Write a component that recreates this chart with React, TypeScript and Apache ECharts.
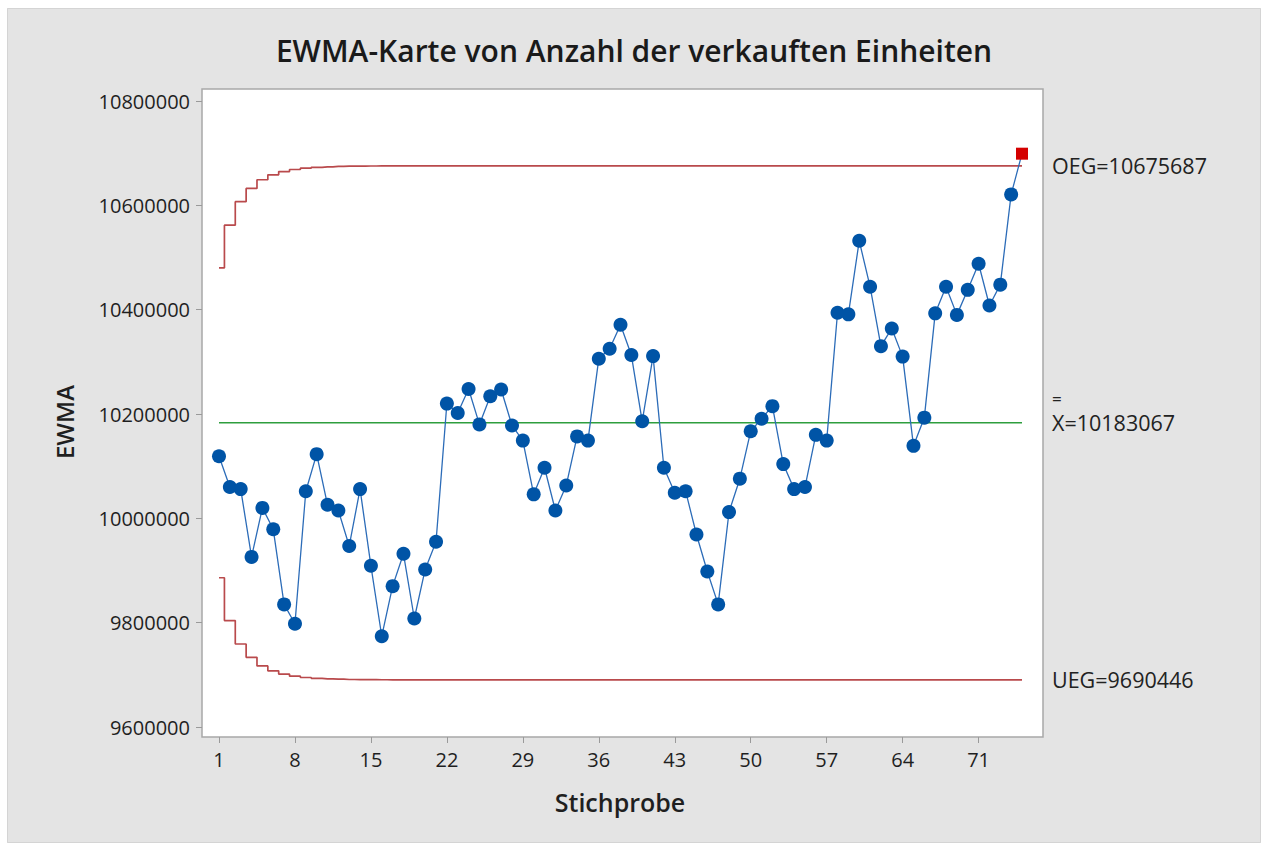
import React, { useEffect, useRef } from "react";
import * as echarts from "echarts";

const TITLE = "EWMA-Karte von Anzahl der verkauften Einheiten";
const X_NAME = "Stichprobe";
const Y_NAME = "EWMA";

const SAMPLES = [
  1, 2, 3, 4, 5, 6, 7, 8, 9, 10, 11, 12, 13, 14, 15, 16, 17, 18, 19, 20, 21, 22, 23, 24, 25,
  26, 27, 28, 29, 30, 31, 32, 33, 34, 35, 36, 37, 38, 39, 40, 41, 42, 43, 44, 45, 46, 47, 48, 49, 50,
  51, 52, 53, 54, 55, 56, 57, 58, 59, 60, 61, 62, 63, 64, 65, 66, 67, 68, 69, 70, 71, 72, 73, 74, 75,
];
const X_TICK_LABELS = ["1", "8", "15", "22", "29", "36", "43", "50", "57", "64", "71"];
const Y_TICKS = [9600000, 9800000, 10000000, 10200000, 10400000, 10600000, 10800000];

const EWMA = [
  10119000, 10060000, 10056000, 9926000, 10020000, 9979000, 9835000, 9798000, 10052000, 10123000,
  10026000, 10015000, 9947000, 10056000, 9909000, 9774000, 9870000, 9932000, 9808000, 9902000,
  9955000, 10220000, 10202000, 10248000, 10180000, 10234000, 10247000, 10178000, 10149000, 10046000,
  10097000, 10015000, 10063000, 10157000, 10149000, 10306000, 10325000, 10371000, 10313000, 10186000,
  10311000, 10097000, 10049000, 10052000, 9969000, 9898000, 9835000, 10012000, 10076000, 10167000,
  10191000, 10215000, 10104000, 10056000, 10060000, 10160000, 10149000, 10394000, 10391000, 10532000,
  10444000, 10330000, 10364000, 10310000, 10139000, 10193000, 10393000, 10444000, 10390000, 10438000,
  10488000, 10408000, 10448000, 10621000, 10699000,
];

const CENTER = 10183067;
const OEG = 10675687;
const UEG = 9690446;
// step values of the control limits at the first samples
const OEG_START = [
  10480000, 10562000, 10607000, 10632500, 10649000, 10658500, 10664700, 10668700, 10671200,
  10672800, 10673900, 10674500, 10675000, 10675200, 10675400, 10675500, 10675600, 10675600,
];
const UEG_START = [
  9886100, 9804100, 9759100, 9733600, 9717100, 9707600, 9701400, 9697400, 9694900,
  9693300, 9692200, 9691600, 9691100, 9690900, 9690700, 9690600, 9690500, 9690500,
];

const FONT = "'Open Sans', 'Noto Sans', 'DejaVu Sans', sans-serif";

export default function App() {
  const ref = useRef<HTMLDivElement>(null);

  useEffect(() => {
    if (!ref.current) return;
    const chart = echarts.init(ref.current, undefined, { renderer: "svg" });

    const categories = SAMPLES.map(String);
    const ucl = SAMPLES.map((_, i) => (i < OEG_START.length ? OEG_START[i] : OEG));
    const lcl = SAMPLES.map((_, i) => (i < UEG_START.length ? UEG_START[i] : UEG));
    const center = SAMPLES.map(() => CENTER);
    const ewmaData = EWMA.map((v, i) =>
      v > ucl[i] || v < lcl[i]
        ? { value: v, symbol: "rect", symbolSize: 12, itemStyle: { color: "#d40000" } }
        : v
    );
    const showTick = (_: number, value: string) => X_TICK_LABELS.includes(String(value));

    const limitColor = "#b94a4c";
    const rightLabel = { fontFamily: FONT, fontSize: 21.5, color: "#222" };

    chart.setOption({
      animation: false,
      backgroundColor: "transparent",
      title: {
        text: TITLE,
        left: "center",
        top: 22,
        textStyle: { fontFamily: FONT, fontSize: 30, fontWeight: 600, color: "#1a1a1a" },
      },
      grid: { left: 212, right: 239, top: 93, bottom: 116 },
      xAxis: {
        type: "category",
        data: categories,
        boundaryGap: false,
        offset: 10,
        axisLine: { show: false },
        axisTick: { show: true, length: 6, interval: showTick, lineStyle: { color: "#9a9a9a", width: 1 } },
        axisLabel: {
          interval: showTick,
          margin: 12,
          fontSize: 20,
          color: "#1f1f1f",
          fontFamily: FONT,
        },
        splitLine: { show: false },
      },
      yAxis: {
        type: "value",
        min: Y_TICKS[0],
        max: Y_TICKS[Y_TICKS.length - 1],
        interval: Y_TICKS[1] - Y_TICKS[0],
        offset: 17,
        axisLine: { show: false },
        axisTick: { show: true, length: 6, lineStyle: { color: "#9a9a9a", width: 1 } },
        axisLabel: {
          margin: 12,
          fontSize: 20,
          color: "#1f1f1f",
          fontFamily: FONT,
          formatter: (v: number) => String(Math.round(v)),
        },
        splitLine: { show: false },
      },
      graphic: [
        {
          type: "rect",
          z: -20,
          silent: true,
          shape: { x: 0.5, y: 0.5, width: 1253, height: 834 },
          style: { fill: "none", stroke: "#d4d4d4", lineWidth: 1 },
        },
        {
          type: "rect",
          z: -10,
          silent: true,
          shape: { x: 195, y: 81, width: 841, height: 648 },
          style: { fill: "#ffffff", stroke: "#a8a8a8", lineWidth: 1.5 },
        },
        {
          type: "text",
          x: 57,
          y: 414,
          rotation: Math.PI / 2,
          style: {
            text: Y_NAME,
            fontFamily: FONT,
            fontSize: 24,
            fontWeight: 600,
            fill: "#1f1f1f",
            align: "center",
            verticalAlign: "middle",
          },
        },
        {
          type: "text",
          x: 613,
          y: 794,
          style: {
            text: X_NAME,
            fontFamily: FONT,
            fontSize: 25,
            fontWeight: 600,
            fill: "#1f1f1f",
            align: "center",
            verticalAlign: "middle",
          },
        },
        {
          // double bar of the X (grand mean) symbol
          type: "text",
          x: 1045,
          y: 390,
          style: {
            text: "=",
            fontFamily: FONT,
            fontSize: 17,
            fill: "#222",
            align: "left",
            verticalAlign: "middle",
          },
        },
      ],
      series: [
        {
          name: "OEG",
          type: "line",
          data: ucl,
          step: "middle",
          showSymbol: false,
          symbol: "none",
          lineStyle: { color: limitColor, width: 1.7 },
          silent: true,
          endLabel: { show: true, formatter: "OEG=" + OEG, distance: 30, ...rightLabel },
          z: 2,
        },
        {
          name: "UEG",
          type: "line",
          data: lcl,
          step: "middle",
          showSymbol: false,
          symbol: "none",
          lineStyle: { color: limitColor, width: 1.7 },
          silent: true,
          endLabel: { show: true, formatter: "UEG=" + UEG, distance: 30, ...rightLabel },
          z: 2,
        },
        {
          name: "Mittelwert",
          type: "line",
          data: center,
          showSymbol: false,
          symbol: "none",
          lineStyle: { color: "#2e9e3e", width: 1.5 },
          silent: true,
          endLabel: { show: true, formatter: "X=" + CENTER, distance: 30, ...rightLabel },
          z: 2,
        },
        {
          name: "EWMA",
          type: "line",
          data: ewmaData,
          symbol: "circle",
          symbolSize: 14,
          showAllSymbol: true,
          itemStyle: { color: "#0054a6" },
          lineStyle: { color: "#2c6cb8", width: 1.3 },
          z: 5,
        },
      ],
    });

    return () => chart.dispose();
  }, []);

  return (
    <div
      ref={ref}
      style={{
        position: "fixed",
        left: 7,
        top: 8,
        width: 1254,
        height: 835,
        background: "#e4e4e4",
      }}
    />
  );
}
